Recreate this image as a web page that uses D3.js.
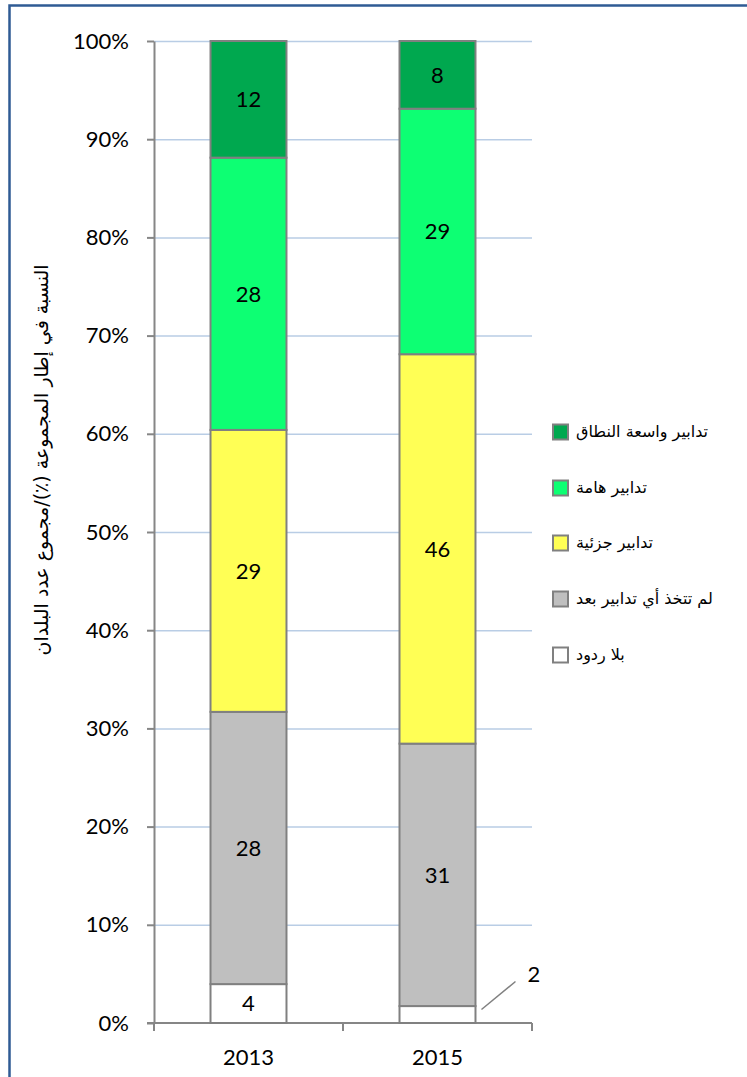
<!DOCTYPE html>
<html>
<head>
<meta charset="utf-8">
<script src="https://cdn.jsdelivr.net/npm/d3@7"></script>
<style>
  html, body { margin: 0; padding: 0; background: #fff; }
  svg { display: block; }
  .num { font-family: Lato, "Open Sans", sans-serif; fill: #000; }
  .ar { font-family: "DejaVu Sans", sans-serif; fill: #000; }
</style>
</head>
<body>
<div id="chart"></div>
<script>
// البيانات
const years = ["2013", "2015"];
const noResponse = [4, 2];      // بلا ردود
const noMeasures = [28, 31];    // لم تتخذ أي تدابير بعد
const partial = [29, 46];       // تدابير جزئية
const significant = [28, 29];   // تدابير هامة
const extensive = [12, 8];      // تدابير واسعة النطاق

const seriesNames = ["بلا ردود", "لم تتخذ أي تدابير بعد", "تدابير جزئية", "تدابير هامة", "تدابير واسعة النطاق"];
const seriesValues = [noResponse, noMeasures, partial, significant, extensive];
const seriesColors = ["#ffffff", "#bfbfbf", "#ffff55", "#0dff73", "#00a84f"];
const yTicks = [0, 0.1, 0.2, 0.3, 0.4, 0.5, 0.6, 0.7, 0.8, 0.9, 1];
const yTitle = "النسبة في إطار المجموعة (٪)/مجموع عدد البلدان";

const W = 747, H = 1077;
const plot = { left: 154, right: 532, top: 41, bottom: 1023 };

const svg = d3.select("#chart").append("svg")
    .attr("width", W).attr("height", H);

// الإطار
svg.append("rect")
    .attr("x", 9.5).attr("y", 5.5)
    .attr("width", 760).attr("height", 1100)
    .attr("fill", "#fff")
    .attr("stroke", "#2f5b94").attr("stroke-width", 2.5);

// المقاييس
const x = d3.scaleBand()
    .domain(years)
    .range([plot.left, plot.right])
    .paddingInner(0.598)
    .paddingOuter(0.299);

const y = d3.scaleLinear()
    .domain([0, 1])
    .range([plot.bottom, plot.top]);

// تحويل إلى نسب مكدسة
const rows = years.map((yr, i) => {
    const row = { year: yr };
    seriesNames.forEach((n, k) => row[n] = seriesValues[k][i]);
    return row;
});
const stacked = d3.stack().keys(seriesNames).offset(d3.stackOffsetExpand)(rows);

// خطوط الشبكة
svg.append("g")
    .selectAll("line")
    .data(yTicks.filter(t => t > 0))
    .join("line")
    .attr("x1", plot.left).attr("x2", plot.right)
    .attr("y1", d => y(d) + 0.5).attr("y2", d => y(d) + 0.5)
    .attr("stroke", "#b9cde5").attr("stroke-width", 1.5);

// المحور الرأسي
const yAxis = svg.append("g")
    .attr("transform", `translate(${plot.left},0)`)
    .call(d3.axisLeft(y).tickValues(yTicks).tickFormat(d3.format(".0%"))
        .tickSizeInner(7).tickSizeOuter(0).tickPadding(18));
yAxis.selectAll("path, line").attr("stroke", "#868686").attr("stroke-width", 2);
yAxis.selectAll("text").attr("class", "num").style("font-size", "22px");

// المحور الأفقي
const step = x.step();
const gap = step - x.bandwidth();
const bounds = years.map(d => x(d) - gap / 2).concat([x(years[years.length - 1]) + x.bandwidth() + gap / 2]);
const xAxis = svg.append("g");
xAxis.append("line")
    .attr("x1", plot.left - 7).attr("x2", plot.right)
    .attr("y1", plot.bottom).attr("y2", plot.bottom)
    .attr("stroke", "#868686").attr("stroke-width", 2);
xAxis.selectAll(".tk")
    .data(bounds)
    .join("line")
    .attr("class", "tk")
    .attr("x1", d => d).attr("x2", d => d)
    .attr("y1", plot.bottom).attr("y2", plot.bottom + 8)
    .attr("stroke", "#868686").attr("stroke-width", 2);
xAxis.selectAll(".yl")
    .data(years)
    .join("text")
    .attr("class", "num yl")
    .attr("x", d => x(d) + x.bandwidth() / 2)
    .attr("y", 1065)
    .attr("text-anchor", "middle")
    .style("font-size", "22px")
    .text(d => d);

// الأعمدة
const layers = svg.append("g")
    .selectAll("g")
    .data(stacked)
    .join("g")
    .attr("fill", (d, i) => seriesColors[i]);

layers.selectAll("rect")
    .data(d => d)
    .join("rect")
    .attr("x", d => x(d.data.year))
    .attr("width", x.bandwidth())
    .attr("y", d => y(d[1]))
    .attr("height", d => y(d[0]) - y(d[1]))
    .attr("stroke", "#808080")
    .attr("stroke-width", 2);

// تسميات القيم
stacked.forEach((layer, k) => {
    layer.forEach((d, i) => {
        const v = seriesValues[k][i];
        const h = y(d[0]) - y(d[1]);
        if (h > 30) {
            svg.append("text")
                .attr("class", "num")
                .attr("x", x(d.data.year) + x.bandwidth() / 2)
                .attr("y", (y(d[0]) + y(d[1])) / 2)
                .attr("dy", "0.36em")
                .attr("text-anchor", "middle")
                .style("font-size", "22px")
                .text(v);
        } else {
            const bx = x(d.data.year) + x.bandwidth();
            const by = (y(d[0]) + y(d[1])) / 2;
            svg.append("line")
                .attr("x1", bx + 6).attr("y1", by - 5)
                .attr("x2", bx + 40).attr("y2", by - 33)
                .attr("stroke", "#808080").attr("stroke-width", 1.5);
            svg.append("text")
                .attr("class", "num")
                .attr("x", bx + 52)
                .attr("y", by - 40)
                .attr("dy", "0.36em")
                .style("font-size", "22px")
                .text(v);
        }
    });
});

// عنوان المحور الرأسي
svg.append("text")
    .attr("class", "ar")
    .attr("transform", "translate(48,460) rotate(-90)")
    .attr("text-anchor", "middle")
    .style("font-size", "19px")
    .text(yTitle);

// وسيلة الإيضاح
const legendY = [432, 488, 543, 599, 655];
const legendOrder = d3.range(seriesNames.length).reverse();
const legend = svg.append("g")
    .selectAll("g")
    .data(legendOrder)
    .join("g")
    .attr("transform", (k, j) => `translate(553,${legendY[j]})`);
legend.append("rect")
    .attr("x", 0).attr("y", -7.5)
    .attr("width", 15).attr("height", 15)
    .attr("fill", k => seriesColors[k])
    .attr("stroke", "#808080").attr("stroke-width", 2);
legend.append("text")
    .attr("class", "ar")
    .attr("x", 23)
    .attr("y", 0)
    .attr("dy", "0.3em")
    .style("font-size", "16px")
    .text(k => seriesNames[k]);
</script>
</body>
</html>
